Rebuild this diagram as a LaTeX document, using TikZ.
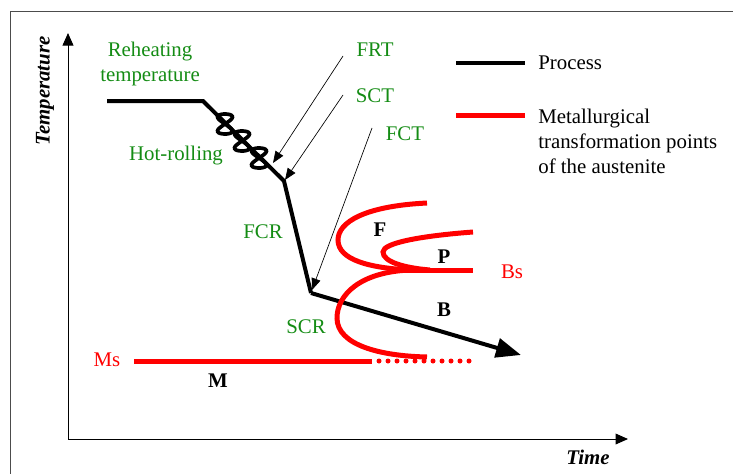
\documentclass[tikz,border=0pt]{standalone}
\usepackage{fontspec}
\setmainfont{Liberation Serif}
\usetikzlibrary{arrows.meta}
\definecolor{labgreen}{RGB}{20,140,20}

\begin{document}
\begin{tikzpicture}[x=0.6pt,y=-0.6pt,
    txt/.style={font=\fontsize{12.5}{15}\selectfont,inner sep=0pt},
    greenlab/.style={txt,text=labgreen},
    zone/.style={txt,font=\fontsize{12.5}{15}\selectfont\bfseries},
    axislab/.style={txt,font=\fontsize{12.5}{15}\selectfont\bfseries\itshape},
    process/.style={line width=2.4pt,black},
    austen/.style={line width=3pt,red},
    axis/.style={line width=0.6pt,-{Triangle[length=7.5pt,width=6.5pt]}},
    pointer/.style={line width=0.4pt,-{Triangle[length=7pt,width=5.5pt]}}]
  \useasboundingbox (0,0) rectangle (733,474);
  % frame
  \draw[black!70,line width=0.6pt] (733,11) -- (10,11) -- (10,474);
  % axes
  \coordinate (origin) at (68,439);
  \coordinate (ytop) at (68,33);
  \coordinate (xend) at (628,439);
  \draw[axis] (origin) -- (ytop);
  \draw[axis] (origin) -- (xend);
  \node[axislab,rotate=90] (temp) at (45,91) {Temperature};
  \node[axislab] (time) at (588,457) {Time};
  % process path
  \coordinate (p0) at (107,101);
  \coordinate (p1) at (203,101);
  \coordinate (p2) at (284,181);
  \coordinate (p3) at (311,293);
  \coordinate (p4) at (521,355);
  \draw[process,line join=miter] (p0) -- (p1) -- (p2) -- (p3);
  \draw[process,-{Triangle[length=15pt,width=11.5pt]}] (p3) -- (p4);
  \foreach \kx/\ky in {225/124, 242/141, 259/158}
    \draw[line width=2.2pt] plot[domain=0:360,samples=40,smooth cycle,variable=\t]
      ({\kx+15*sin(\t)*cos(\t)},{\ky+10*sin(\t)});
  % pointers
  \node[greenlab] (frt) at (375,50) {FRT};
  \node[greenlab] (sct) at (375,96) {SCT};
  \node[greenlab] (fct) at (405,134) {FCT};
  \coordinate (frt-s) at (343,56);
  \coordinate (frt-e) at (273,163);
  \coordinate (sct-s) at (343,95);
  \coordinate (sct-e) at (285,180);
  \coordinate (fct-s) at (372,128);
  \coordinate (fct-e) at (312,290);
  \draw[pointer] (frt-s) -- (frt-e);
  \draw[pointer] (sct-s) -- (sct-e);
  \draw[pointer] (fct-s) -- (fct-e);
  % green labels
  \node[greenlab,align=center] (reheat) at (150,64) {Reheating\\temperature};
  \node[greenlab] (hotroll) at (176,156) {Hot-rolling};
  \node[greenlab] (fcr) at (263,232) {FCR};
  \node[greenlab] (scr) at (306,327) {SCR};
  % transformation curves
  \draw[austen] (427,203) .. controls (365,206) and (338,222) .. (338,240)
    .. controls (338,260) and (370,268) .. (410,270);
  \draw[austen] (473,232) .. controls (420,236) and (383,243) .. (383,252)
    .. controls (383,262) and (405,268) .. (430,270);
  \draw[austen] (395,270) -- (473,270);
  \draw[austen] (410,270) .. controls (360,272) and (337,295) .. (337,318)
    .. controls (337,345) and (380,356) .. (427,357);
  \draw[austen] (134,361) -- (372,361);
  \draw[austen,line cap=round,dash pattern=on 0pt off 5.4pt] (379,361) -- (470,361);
  \node[txt,text=red] (ms) at (107,360) {Ms};
  \node[txt,text=red] (bs) at (512,272) {Bs};
  \node[zone] (zf) at (380,230) {F};
  \node[zone] (zp) at (444,257) {P};
  \node[zone] (zb) at (444,310) {B};
  \node[zone] (zm) at (218,381) {M};
  % legend
  \coordinate (lg1a) at (456,63);  \coordinate (lg1b) at (525,63);
  \coordinate (lg2a) at (456,115); \coordinate (lg2b) at (525,115);
  \draw[process] (lg1a) -- (lg1b);
  \draw[austen] (lg2a) -- (lg2b);
  \node[txt,anchor=west] (lgproc) at (538,63) {Process};
  \node[txt,anchor=west,align=left] (lgmet) at (538,141)
    {Metallurgical\\transformation points\\of the austenite};
\end{tikzpicture}
\end{document}
